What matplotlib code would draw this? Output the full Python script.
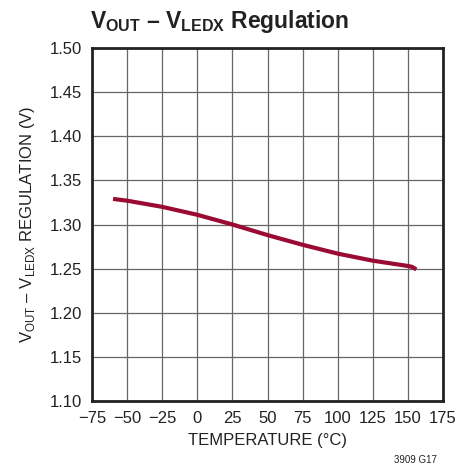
import matplotlib
matplotlib.use("Agg")
import matplotlib.pyplot as plt

plt.rcParams['font.family'] = ['Liberation Sans', 'DejaVu Sans']
plt.rcParams['mathtext.fontset'] = 'custom'
plt.rcParams['mathtext.rm'] = 'Liberation Sans'
plt.rcParams['mathtext.bf'] = 'Liberation Sans:bold'

# curve
temp = [-60, -50, -25, 0, 25, 50, 75, 100, 125, 150, 153, 156]
vreg = [1.329, 1.327, 1.320, 1.311, 1.300, 1.288, 1.277, 1.267, 1.259, 1.253, 1.252, 1.249]

xticks = [-75, -50, -25, 0, 25, 50, 75, 100, 125, 150, 175]
yticks = [1.10, 1.15, 1.20, 1.25, 1.30, 1.35, 1.40, 1.45, 1.50]

fig = plt.figure(figsize=(4.57, 4.71), dpi=100)
ax = fig.add_axes([92/457, 1 - 401/471, 351/457, 353/471])

ax.plot(temp, vreg, color='#9b0a33', lw=3, solid_capstyle='butt')

ax.set_xlim(-75, 175)
ax.set_ylim(1.10, 1.50)
ax.set_xticks(xticks)
ax.set_yticks(yticks)
ax.set_xticklabels(['\u221275', '\u221250', '\u221225'] + [str(t) for t in xticks[3:]])
ax.set_yticklabels(['%.2f' % v for v in yticks])
ax.tick_params(length=0, labelsize=12, pad=7, labelcolor='#222222')
ax.grid(True, color='#666666', lw=0.9)
for s in ax.spines.values():
    s.set_linewidth(2)
    s.set_color('#222222')

ax.set_xlabel('TEMPERATURE (\u00b0C)', fontsize=12, labelpad=5, color='#222222')
ax.set_ylabel('V$_\\mathregular{OUT}$ \u2013 V$_\\mathregular{LEDX}$ REGULATION (V)',
              fontsize=12, labelpad=9, color='#222222')

fig.text(0.48, 0.955, 'V$_\\mathbf{OUT}$ \u2013 V$_\\mathbf{LEDX}$ Regulation',
         fontsize=16.5, fontweight='bold', ha='center', va='center', color='#222222')
fig.text(0.955, 0.012, '3909 G17', fontsize=7, ha='right', va='bottom', color='#222222')

fig.savefig('out.png', dpi=100)
